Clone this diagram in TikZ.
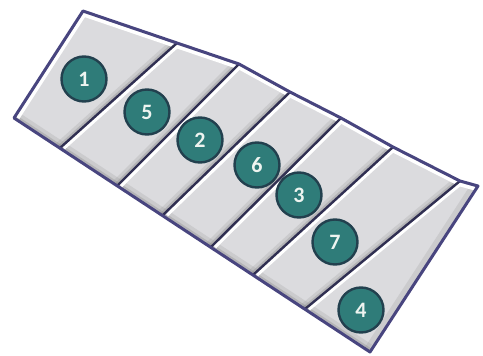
\documentclass[tikz,border=0pt]{standalone}
\usepackage{fontspec}
\newfontfamily\numfont{Carlito}
\definecolor{edgec}{HTML}{48457F}
\definecolor{divc}{HTML}{302F52}
\definecolor{platec}{HTML}{DBDBDE}
\definecolor{tealc}{HTML}{2F7C79}
\definecolor{tealb}{HTML}{22404E}
\definecolor{numc}{HTML}{EEF4F0}
\tikzset{
  numdisc/.style={circle, fill=tealc, draw=tealb, line width=2.4pt, minimum size=45pt,
    inner sep=0pt, text=numc, font=\numfont\bfseries\fontsize{22}{22}\selectfont},
  divline/.style={divc, line width=2.4pt, line cap=round},
  hilite/.style={white, line width=3.6pt},
  shade1/.style={black!45, line width=7pt, opacity=0.2},
  shade2/.style={black!55, line width=3.5pt, opacity=0.25},
  outline/.style={edgec, line width=3pt, line join=round}
}
\begin{document}
\begin{tikzpicture}[x=1pt,y=-1pt]
\useasboundingbox (0,0) rectangle (483,356);
\coordinate (A) at (83,11);
\coordinate (T1) at (177,43);
\coordinate (T2) at (239,64);
\coordinate (T3) at (290,92);
\coordinate (T4) at (341,118);
\coordinate (T5) at (393,147);
\coordinate (T6) at (460,181);
\coordinate (R) at (478,186);
\coordinate (B) at (370,352);
\coordinate (L) at (14,118);
\coordinate (B1) at (60,148);
\coordinate (B2) at (117,186);
\coordinate (B3) at (163,215);
\coordinate (B4) at (211,247);
\coordinate (B5) at (253,275);
\coordinate (B6) at (305,309);
\fill[platec] (A)--(T1)--(T2)--(T3)--(T4)--(T5)--(T6)--(R)--(B)--(L)--cycle;
\begin{scope}
  \clip (A)--(T1)--(T2)--(T3)--(T4)--(T5)--(T6)--(R)--(B)--(L)--cycle;
  % soft shadows
  \foreach \i in {1,...,6} {
    \draw[shade1] ([xshift=-4pt]T\i) -- ([xshift=-4pt]B\i);
    \draw[shade2] ([xshift=-2.2pt]T\i) -- ([xshift=-2.2pt]B\i);
  }
  \draw[shade1] ([yshift=4.5pt]L) -- ([yshift=4.5pt]B);
  \draw[shade2] ([yshift=2.2pt]L) -- ([yshift=2.2pt]B);
  \draw[shade1] ([xshift=-4pt]R) -- ([xshift=-4pt]B);
  % highlights
  \foreach \i in {1,...,6} {
    \draw[hilite] ([xshift=3.8pt]T\i) -- ([xshift=3.8pt]B\i);
  }
  \draw[hilite] ([yshift=-3.6pt]A) -- ([yshift=-3.6pt]T1) -- ([yshift=-3.6pt]T2) -- ([yshift=-3.6pt]T3)
     -- ([yshift=-3.6pt]T4) -- ([yshift=-3.6pt]T5) -- ([yshift=-3.6pt]T6) -- ([yshift=-3.6pt]R);
  \draw[hilite] ([xshift=3.8pt]A) -- ([xshift=3.8pt]L);
  % dividers
  \foreach \i in {1,...,6} {
    \draw[divline] (T\i) -- (B\i);
  }
\end{scope}
\draw[outline] (A)--(T1)--(T2)--(T3)--(T4)--(T5)--(T6)--(R)--(B)--(L)--cycle;
\node[numdisc] (n1) at (84,79) {1};
\node[numdisc] (n5) at (147,112) {5};
\node[numdisc] (n2) at (200,140) {2};
\node[numdisc] (n6) at (257,165) {6};
\node[numdisc] (n3) at (299,195) {3};
\node[numdisc] (n7) at (335,242) {7};
\node[numdisc] (n4) at (361,310) {4};
\end{tikzpicture}
\end{document}
